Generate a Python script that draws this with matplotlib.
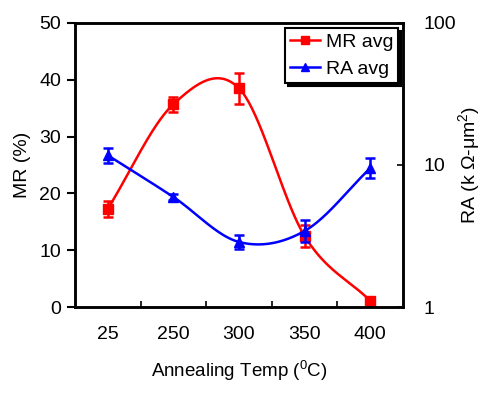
# -*- coding: utf-8 -*-
# MR and RA vs annealing temperature (two y axes, RA on log scale)
import numpy as np
import matplotlib.pyplot as plt
from matplotlib.ticker import FixedLocator, NullFormatter, FixedFormatter, NullLocator

plt.rcParams['font.family'] = ['Liberation Sans', 'DejaVu Sans']
plt.rcParams['mathtext.default'] = 'regular'

temps = ["25", "250", "300", "350", "400"]
mr_avg = [17.3, 35.7, 38.5, 12.5, 1.1]
mr_err = [1.4, 1.3, 2.7, 1.85, 0.3]
ra_avg = [11.7, 5.95, 2.87, 3.43, 9.5]
ra_lo = [10.4, 5.65, 2.56, 2.87, 8.1]
ra_hi = [13.1, 6.25, 3.22, 4.1, 11.2]


def smooth(y, n=40):
    # Catmull-Rom through the points (smoothed line), ends mirrored
    y = np.asarray(y, float)
    p = np.concatenate([[2 * y[0] - y[1]], y, [2 * y[-1] - y[-2]]])
    xs, ys = [], []
    for i in range(len(y) - 1):
        p0, p1, p2, p3 = p[i], p[i + 1], p[i + 2], p[i + 3]
        t = np.linspace(0, 1, n, endpoint=(i == len(y) - 2))
        m1 = (p2 - p0) / 2
        m2 = (p3 - p1) / 2
        h00 = 2 * t**3 - 3 * t**2 + 1
        h10 = t**3 - 2 * t**2 + t
        h01 = -2 * t**3 + 3 * t**2
        h11 = t**3 - t**2
        xs.append(i + t)
        ys.append(h00 * p1 + h10 * m1 + h01 * p2 + h11 * m2)
    return np.concatenate(xs), np.concatenate(ys)


fig = plt.figure(figsize=(4.82, 3.94), dpi=100)
ax = fig.add_axes([75 / 482, 1 - 307 / 394, 328 / 482, 284 / 394])
ax2 = ax.twinx()

x = np.arange(len(temps))
lw = 1.8

# MR (left axis)
sx, sy = smooth(mr_avg)
ax.plot(sx, sy, color="red", lw=lw)
ax.errorbar(x, mr_avg, yerr=mr_err, fmt="none", ecolor="red", elinewidth=lw,
            capsize=3.5, capthick=lw)
ax.plot(x, mr_avg, "s", color="red", ms=7)

# RA (right axis, log)
sx, sl = smooth(np.log10(ra_avg))
ax2.plot(sx, 10**sl, color="blue", lw=lw)
ra = np.array(ra_avg)
ax2.errorbar(x, ra, yerr=[ra - np.array(ra_lo), np.array(ra_hi) - ra], fmt="none",
             ecolor="blue", elinewidth=lw, capsize=3.5, capthick=lw)
ax2.plot(x, ra_avg, "^", color="blue", ms=7.5)

# legend handles
l1, = ax.plot([], [], "-s", color="red", lw=lw, ms=6, label="MR avg")
l2, = ax.plot([], [], "-^", color="blue", lw=lw, ms=6, label="RA avg")
leg = ax2.legend(handles=[l1, l2], loc="upper right", bbox_to_anchor=(0.985, 0.982),
                 fontsize=14, frameon=True, fancybox=False, shadow={'color': 'black', 'alpha': 1},
                 edgecolor="black", framealpha=1, handlelength=1.55, handletextpad=0.3,
                 borderpad=0.25, labelspacing=0.5, borderaxespad=0)
leg.get_frame().set_linewidth(1.5)

# axes setup
ax.set_xlim(-0.5, len(temps) - 0.5)
ax.set_ylim(0, 50)
ax.set_yticks([0, 10, 20, 30, 40, 50])
ax2.set_yscale("log")
ax2.set_ylim(1, 100)
ax2.yaxis.set_major_locator(FixedLocator([1, 10, 100]))
ax2.yaxis.set_major_formatter(FixedFormatter(["1", "10", "100"]))
ax2.yaxis.set_minor_locator(NullLocator())

ax.xaxis.set_major_locator(FixedLocator(np.arange(len(temps) - 1) + 0.5))
ax.xaxis.set_major_formatter(NullFormatter())
ax.xaxis.set_minor_locator(FixedLocator(x))
ax.xaxis.set_minor_formatter(FixedFormatter(temps))
ax.tick_params(axis="x", which="major", direction="in", length=4, width=1.2)
ax.tick_params(axis="x", which="minor", length=0, pad=14, labelsize=14)
ax.tick_params(axis="y", direction="out", length=6, width=1.5, labelsize=14, pad=4)
ax2.tick_params(axis="y", direction="in", length=4, width=1.2, labelsize=14, pad=15)

for a in (ax, ax2):
    for s in a.spines.values():
        s.set_linewidth(1.8)

ax.set_xlabel("Annealing Temp ($^{0}$C)", fontsize=13.5, labelpad=11)
ax.set_ylabel("MR (%)", fontsize=14, labelpad=6)
ax2.set_ylabel("RA (k Ω-μm$^{2}$)", fontsize=14, labelpad=0)

fig.savefig("out.png", dpi=100)
